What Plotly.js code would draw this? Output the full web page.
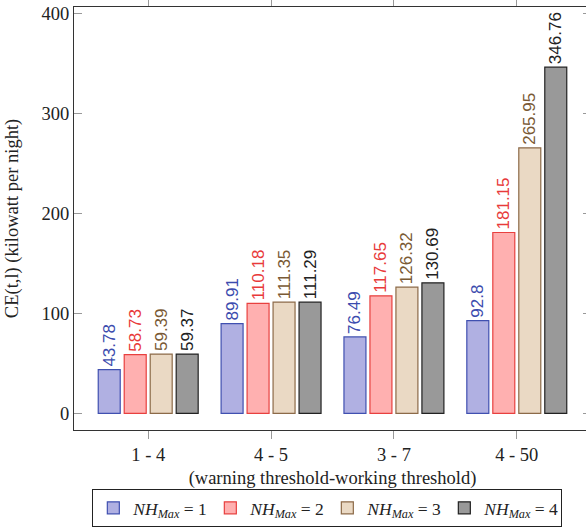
<!DOCTYPE html>
<html>
<head>
<meta charset="utf-8">
<script src="https://cdn.plot.ly/plotly-3.0.1.min.js"></script>
<style>
html,body{margin:0;padding:0;overflow:hidden;background:#fff;}
#chart{width:600px;height:528px;}
</style>
</head>
<body>
<div id="chart"></div>
<script>
const categories = ["1 - 4", "4 - 5", "3 - 7", "4 - 50"];
const seriesNames = [
  "<i>NH</i><sub><i>Max</i></sub> = 1",
  "<i>NH</i><sub><i>Max</i></sub> = 2",
  "<i>NH</i><sub><i>Max</i></sub> = 3",
  "<i>NH</i><sub><i>Max</i></sub> = 4"
];
const nh1 = [43.78, 89.91, 76.49, 92.8];
const nh2 = [58.73, 110.18, 117.65, 181.15];
const nh3 = [59.39, 111.35, 126.32, 265.95];
const nh4 = [59.37, 111.29, 130.69, 346.76];
const labels1 = ["43.78", "89.91", "76.49", "92.8"];
const labels2 = ["58.73", "110.18", "117.65", "181.15"];
const labels3 = ["59.39", "111.35", "126.32", "265.95"];
const labels4 = ["59.37", "111.29", "130.69", "346.76"];
const yTicks = [0, 100, 200, 300, 400];

const fills = ["#b0b0e2", "#ffb0b0", "#ead9c4", "#999999"];
const edges = ["#4050b0", "#e8403f", "#8c6a48", "#222222"];
const textCols = ["#3c4cae", "#e83a3a", "#7a5a35", "#222222"];

const values = [nh1, nh2, nh3, nh4];
const labels = [labels1, labels2, labels3, labels4];

const traces = values.map((v, i) => ({
  type: "bar",
  name: seriesNames[i],
  x: categories,
  y: v,
  text: labels[i],
  textposition: "outside",
  textangle: -90,
  constraintext: "none",
  cliponaxis: false,
  textfont: {family: "Liberation Sans, Arial, sans-serif", size: 17, color: textCols[i]},
  marker: {color: fills[i], line: {color: edges[i], width: 1.2}},
  hoverinfo: "none"
}));

const serif = "Liberation Serif, Times New Roman, serif";

const layout = {
  width: 600,
  height: 528,
  margin: {l: 74, r: 9, t: 7, b: 98},
  paper_bgcolor: "#ffffff",
  plot_bgcolor: "#ffffff",
  barmode: "group",
  bargap: 0.154,
  bargroupgap: 0.154,
  showlegend: true,
  font: {family: serif, size: 18.5, color: "#222"},
  xaxis: {
    type: "category",
    range: [-0.604, 3.604],
    automargin: false,
    showgrid: false,
    zeroline: false,
    showline: true,
    linecolor: "#333",
    linewidth: 1,
    mirror: "ticks",
    ticks: "outside",
    ticklen: 8,
    tickcolor: "#999",
    tickfont: {family: serif, size: 18.5, color: "#222"},
    title: {text: "(warning threshold-working threshold)", font: {family: serif, size: 18.5, color: "#222"}, standoff: 16}
  },
  yaxis: {
    range: [-16.7, 407],
    tickvals: yTicks,
    automargin: false,
    showgrid: false,
    zeroline: false,
    showline: true,
    linecolor: "#333",
    linewidth: 1,
    mirror: "ticks",
    ticks: "inside",
    ticklen: 8,
    tickcolor: "#999",
    tickfont: {family: serif, size: 18.5, color: "#222"},
    title: {text: "CE(t,l) (kilowatt per night)", font: {family: serif, size: 18.5, color: "#222"}, standoff: 18}
  },
  legend: {
    orientation: "h",
    x: 0.49,
    xanchor: "center",
    xref: "paper",
    yref: "container",
    y: 0.002,
    yanchor: "bottom",
    entrywidth: 72,
    itemwidth: 30,
    bordercolor: "#222",
    borderwidth: 1,
    bgcolor: "#fff",
    font: {family: serif, size: 17.5, color: "#222"},
    traceorder: "normal"
  }
};

Plotly.newPlot("chart", traces, layout, {displayModeBar: false, staticPlot: true});
</script>
</body>
</html>
